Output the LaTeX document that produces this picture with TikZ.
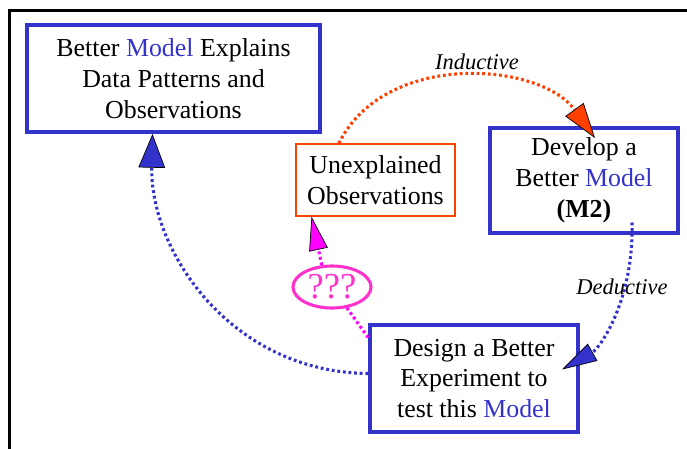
\documentclass[tikz,border=0pt]{standalone}
\usepackage{fontspec}
\setmainfont{Liberation Serif}
\usetikzlibrary{arrows.meta,shapes.geometric}
\definecolor{modelblue}{RGB}{51,51,204}
\definecolor{indred}{RGB}{255,64,0}
\definecolor{qpink}{RGB}{255,51,204}
\definecolor{qmag}{RGB}{255,0,255}
\newcommand{\mdl}{\textcolor{modelblue}{Model}}

\begin{document}
\begin{tikzpicture}[x=0.025cm, y=-0.025cm,
  box/.style={draw=modelblue, line width=2.6pt, align=center, inner sep=0pt,
    font=\fontsize{18.4}{22}\selectfont},
  obsbox/.style={draw=indred, line width=0.9pt, align=center, inner sep=0pt,
    font=\fontsize{18.4}{22}\selectfont},
  lbl/.style={font=\fontsize{16}{18}\selectfont\itshape},
  dots/.style={line width=2.2pt, dash pattern=on 2pt off 2pt}]
\useasboundingbox (0,0) rectangle (687,449);
\draw[line width=1.8pt] (9.5,449) -- (9.5,10.5) -- (687,10.5);

% the four boxes
\node[box, minimum width=7.33cm, minimum height=2.68cm] (b1) at (173.5,78.5)
  {Better \mdl{} Explains\\Data Patterns and\\Observations};
\node[obsbox, minimum width=3.98cm, minimum height=1.8cm] (uo) at (375.5,180)
  {Unexplained\\Observations};
\node[box, minimum width=4.7cm, minimum height=2.63cm] (dev) at (584,180.5)
  {Develop a\\Better \mdl\\\textbf{(M2)}};
\node[box, minimum width=5.2cm, minimum height=2.68cm] (des) at (474,378.5)
  {Design a Better\\Experiment to\\test this \mdl};
\node[ellipse, draw=qpink, line width=2.2pt, text=qpink, inner sep=0pt,
  minimum width=1.95cm, minimum height=1.05cm,
  font=\fontsize{26}{28}\selectfont] (q) at (332,287) {???};

% connectors
\draw[dots, indred, -{Triangle[length=25pt,width=16pt,fill=indred,color=black,line width=0.5pt]}]
  (uo.135) .. controls (385,50) and (540,62) .. ([shift={(11,12)}]dev.north);
\draw[dots, modelblue, -{Triangle[length=25pt,width=14pt,fill=modelblue,color=black,line width=0.5pt]}]
  ([shift={(48,42)}]dev.center) .. controls (634,300) and (600,348) .. ([shift={(88,-9)}]des.center);
\draw[dots, modelblue, -{Triangle[length=24pt,width=19pt,fill=modelblue,color=black,line width=0.5pt]}]
  ([shift={(0,-5)}]des.west) .. controls (230,372) and (150,250) .. ([shift={(-21,0)}]b1.south);
\draw[dots, qmag] ([shift={(0,-41)}]des.west) -- (q);
\draw[dots, qmag, -{Triangle[length=24pt,width=13.5pt,fill=qmag,color=black,line width=0.5pt]}]
  (q.115) -- ([shift={(-64,0)}]uo.south);

\node[lbl] (ind) at (477,62) {Inductive};
\node[lbl] (ded) at (622,287) {Deductive};
\end{tikzpicture}
\end{document}
